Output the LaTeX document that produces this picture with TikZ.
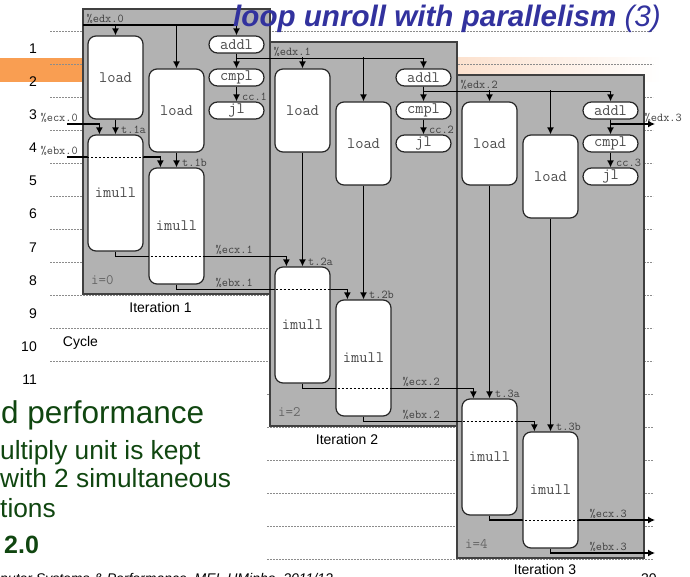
\documentclass[tikz,border=0pt]{standalone}
\usepackage{fontspec}
\setmainfont{Liberation Sans}
\usetikzlibrary{arrows.meta,calc}

\definecolor{itergray}{RGB}{178,178,178}
\definecolor{slidegreen}{RGB}{16,70,16}
\definecolor{titleblue}{RGB}{50,50,158}
\definecolor{bandorange}{RGB}{249,158,82}
\definecolor{bandpeach}{RGB}{252,225,206}

\pgfdeclarelayer{bg}
\pgfdeclarelayer{wires}
\pgfdeclarelayer{fg}
\pgfsetlayers{bg,wires,main,fg}

\tikzset{
  op/.style={draw=black!85, line width=1.2pt, fill=white, rounded corners=8pt,
    minimum width=55pt, minimum height=83pt, inner sep=0pt,
    font=\fontsize{16}{16}\selectfont\ttfamily, text=black!70},
  mulop/.style={op, minimum height=116pt},
  pill/.style={op, minimum height=17pt, rounded corners=8.5pt},
  lbl/.style={font=\fontsize{12}{12}\selectfont\ttfamily, text=black!75, inner sep=0.5pt},
  ilbl/.style={font=\fontsize{14.5}{14.5}\selectfont\ttfamily, text=black!60, inner sep=0pt},
  cyc/.style={font=\fontsize{14}{14}\selectfont, inner sep=0pt},
  body/.style={font=\fontsize{26.3}{26.3}\selectfont, text=slidegreen, inner sep=0pt},
  arr/.style={-{Latex[length=7pt,width=7pt]}, line width=1.3pt},
  hidden/.style={dash pattern=on 2pt off 2pt, black, line width=0.7pt, shorten >=8pt},
  iterbox/.style={draw=black!75, line width=1.4pt, fill=itergray},
  cycleline/.style={dash pattern=on 2pt off 1pt, black!45, line width=0.5pt},
}

% solid wire behind the ops, dashed copy in front of them
\newcommand\depwire[1]{%
  \begin{pgfonlayer}{wires}\draw[arr] #1;\end{pgfonlayer}%
  \begin{pgfonlayer}{fg}\draw[hidden] #1;\end{pgfonlayer}}

\begin{document}
\begin{tikzpicture}[x=1pt,y=-1pt]
	\useasboundingbox (0,0) rectangle (690,577);
	\begin{pgfonlayer}{bg}
		%highlight of cycle 2
		\fill[bandorange] (0,58) rectangle (83,82);
		\shade[left color=bandpeach, right color=white] (457,58) rectangle (662,82);
		%cycle lines
		\foreach \k in {0,...,10} \draw[cycleline] (50,31+33*\k) -- (653,31+33*\k);
		\foreach \k in {11,...,16} \draw[cycleline] (267,31+33*\k) -- (653,31+33*\k);
		%iterations
		\foreach \i in {0,1,2} \draw[iterbox] (83+187*\i,9+33*\i) rectangle (270+187*\i,294+132*\i);
	\end{pgfonlayer}
	%cycle numbers
	\foreach \k in {1,...,11} \node[cyc, anchor=base east] (cyc\k) at (37,54+33*\k-33) {\k};
	\node[cyc] (cycle) at (80.5,343) {Cycle};
	%loop inputs
	\coordinate (edxin) at (83,25);
	\coordinate (ecxin) at (67,124);
	\coordinate (ebxin) at (67,157);
	\node[lbl, anchor=south west] (ecxl0) at (40,123) {\%ecx.0};
	\node[lbl, anchor=south west] (ebxl0) at (40,156) {\%ebx.0};
	\foreach \i in {1,2,3} {
		\pgfmathtruncatemacro\dx{187*(\i-1)}
		\pgfmathtruncatemacro\dy{33*(\i-1)}
		\pgfmathtruncatemacro\dm{132*(\i-1)}
		\pgfmathtruncatemacro\p{\i-1}
		\pgfmathtruncatemacro\n{2*(\i-1)}
		%operations
		\node[op] (loadA\i) at (115.5+\dx,77.5+\dy) {load};
		\node[op] (loadB\i) at (176.5+\dx,110.5+\dy) {load};
		\node[pill] (add\i) at (236.5+\dx,44.5+\dy) {addl};
		\node[pill] (cmp\i) at (236.5+\dx,77.5+\dy) {cmpl};
		\node[pill] (jl\i) at (236.5+\dx,110.5+\dy) {jl};
		\node[mulop] (mulA\i) at (115.5+\dx,193+\dm) {imull};
		\node[mulop] (mulB\i) at (176.5+\dx,226+\dm) {imull};
		%registers coming in
		\ifnum\i=1
			\depwire{(edxin) -| (add1.north)}
			\depwire{(ecxin) -| ([xshift=12pt]mulA1.north west)}
			\depwire{(ebxin) -| ([xshift=12pt]mulB1.north west)}
		\else
			\depwire{(add\p.south) -- ++(0,5) -| (add\i.north)}
			\depwire{(mulA\p.south) -- ++(0,5) -| ([xshift=12pt]mulA\i.north west)}
			\depwire{(mulB\p.south) -- ++(0,5) -| ([xshift=12pt]mulB\i.north west)}
		\fi
		\coordinate (edx\i) at ($(add\i.north)+(0,-11)$);
		\depwire{(edx\i -| loadA\i.north) -- (loadA\i.north)}
		\depwire{(edx\i -| loadB\i.north) -- (loadB\i.north)}
		\depwire{(add\i) -- (cmp\i)}
		\depwire{(cmp\i) -- (jl\i)}
		\depwire{(loadA\i) -- (mulA\i)}
		\depwire{(loadB\i) -- (mulB\i)}
		%labels
		\node[lbl, anchor=south west] (edxl\i) at (86+\dx,24+\dy) {\%edx.\p};
		\node[lbl, anchor=south west] (ccl\i) at ([xshift=5pt]jl\i.north) {cc.\i};
		\node[lbl, anchor=south west] (tA\i) at ([xshift=5pt]mulA\i.north) {t.\i a};
		\node[lbl, anchor=south west] (tB\i) at ([xshift=5pt]mulB\i.north) {t.\i b};
		\node[lbl, anchor=south west] (ecxl\i) at (215+\dx,255+\dm) {\%ecx.\i};
		\node[lbl, anchor=south west] (ebxl\i) at (215+\dx,288+\dm) {\%ebx.\i};
		\node[ilbl, anchor=base west] (il\i) at (91+\dx,284+\dm) {i=\n};
	}
	\node[cyc] (it1) at (160.5,307) {Iteration 1};
	\node[cyc] (it2) at (347,439) {Iteration 2};
	\node[cyc] (it3) at (545,569) {Iteration 3};
	%registers going out
	\coordinate (edxout) at (655,124);
	\coordinate (ecxout) at (655,520);
	\coordinate (ebxout) at (655,553);
	\depwire{(add3.south) |- (edxout)}
	\depwire{(mulA3.south) |- (ecxout)}
	\depwire{(mulB3.south) |- (ebxout)}
	\node[lbl, anchor=south west] (edxl4) at (644,123) {\%edx.3};
	%slide text
	\node[body, font=\fontsize{31.5}{31.5}\selectfont, anchor=base west] (perf) at (1,423) {d performance};
	\node[body, anchor=base west] (txt1) at (0,459) {ultiply unit is kept};
	\node[body, anchor=base west] (txt2) at (0,487) {with 2 simultaneous};
	\node[body, anchor=base west] (txt3) at (0,517) {tions};
	\node[body, font=\fontsize{25}{25}\selectfont\bfseries, anchor=base west] (cpe) at (4,553) {2.0};
	\node[cyc, font=\fontsize{14}{14}\selectfont\itshape, anchor=base west] (foot) at (0,583) {puter Systems \& Performance, MEI, UMinho, 2011/12};
	\node[cyc, anchor=base west] (page) at (641,583) {30};
	\begin{pgfonlayer}{fg}
		\node[anchor=base west, text=titleblue, font=\fontsize{29.6}{29.6}\selectfont\itshape, inner sep=0pt] (title) at (233,27) {\textbf{loop unroll with parallelism} (3)};
	\end{pgfonlayer}
\end{tikzpicture}
\end{document}
